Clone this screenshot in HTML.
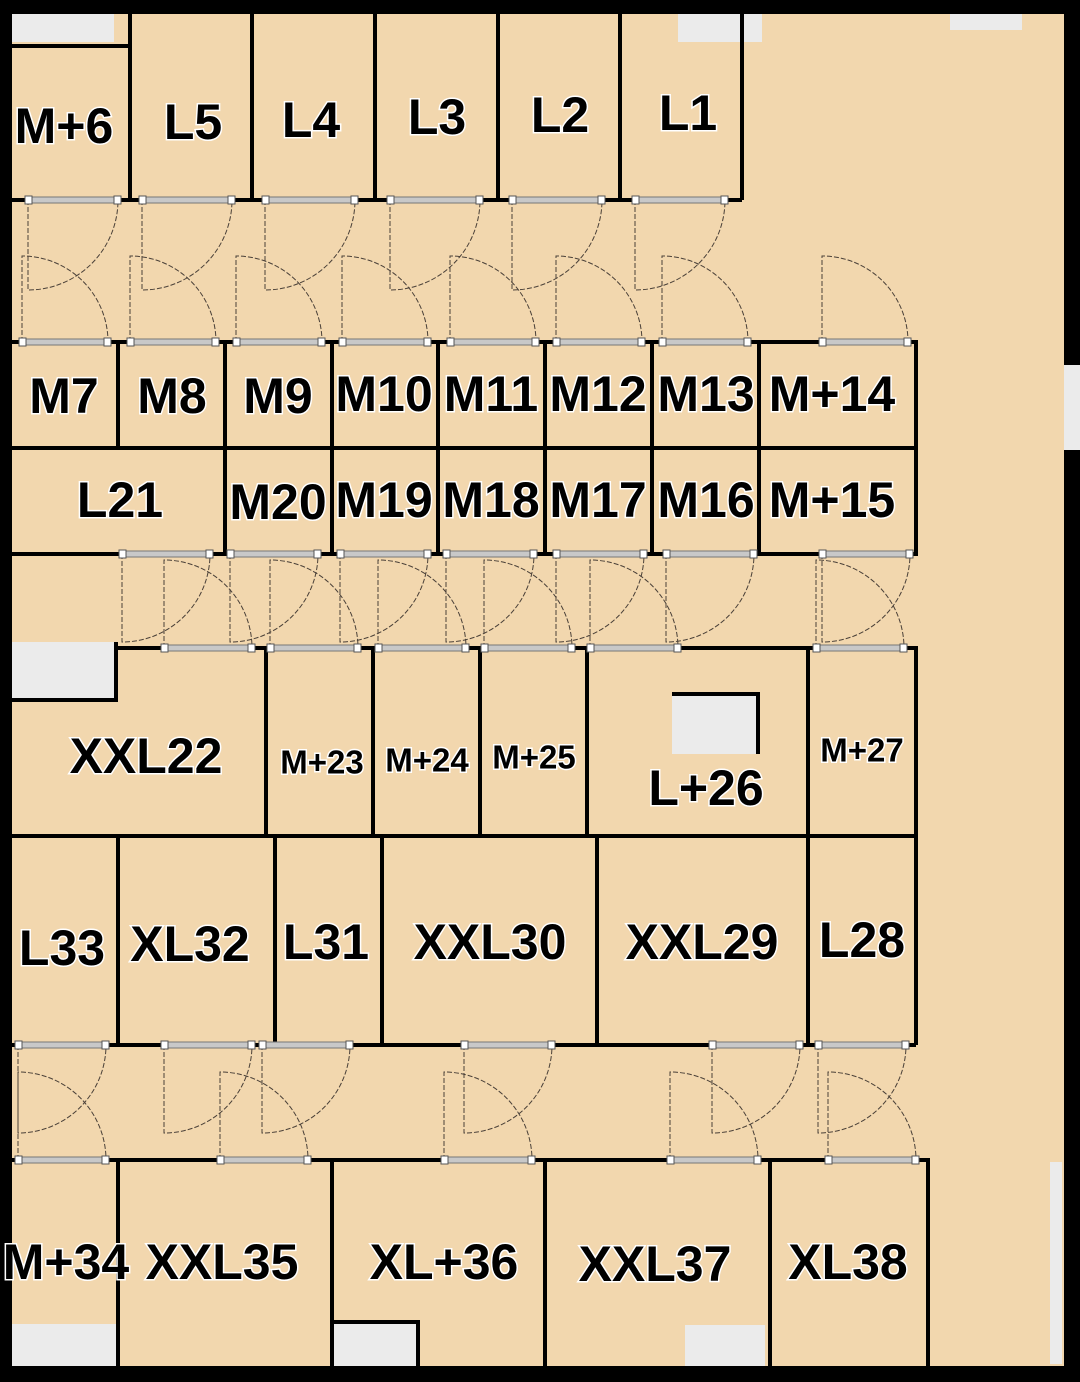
<!DOCTYPE html>
<html><head><meta charset="utf-8"><style>
html,body{margin:0;padding:0;background:#f2d7ae}
svg{display:block}
text{font-family:"Liberation Sans",sans-serif;font-weight:bold;fill:#000;stroke:#fff;stroke-width:3px;paint-order:stroke;text-anchor:middle;dominant-baseline:central}
</style></head><body>
<svg id="s" width="1080" height="1382" viewBox="0 0 1080 1382" xmlns="http://www.w3.org/2000/svg">
<rect x="0" y="0" width="1080" height="1382" fill="#f2d7ae"/>
<g fill="#ebebeb">
<rect x="12" y="14" width="102" height="28"/>
<rect x="678" y="14" width="84" height="28"/>
<rect x="950" y="14" width="72" height="16"/>
<rect x="12" y="642" width="104" height="58"/>
<rect x="672" y="694" width="84" height="60"/>
<rect x="12" y="1324" width="104" height="42"/>
<rect x="334" y="1322" width="84" height="44"/>
<rect x="685" y="1325" width="80" height="41"/>
<rect x="1050" y="1162" width="12" height="202"/>
<rect x="1064" y="365" width="16" height="85"/>
</g>
<g fill="none" stroke="#000" stroke-width="4">
<path d="M12 46H130M130 14V200M252 14V200M375 14V200M498 14V200M620 14V200M742 14V200M12 200H742"/>
<path d="M12 342H916V554H12M12 448H916M118 342V448M225 342V554M332 342V554M438 342V554M545 342V554M652 342V554M759 342V554M916 342V554"/>
<path d="M116 642V700H12M116 648H808V836M808 648H916V1045M12 836H916M266 648V836M373 648V836M480 648V836M587 648V836"/>
<path d="M672 694H758V754"/>
<path d="M12 1045H916M118 836V1045M275 836V1045M382 836V1045M597 836V1045M808 836V1045"/>
<path d="M12 1160H928V1366M118 1160V1366M332 1160V1366M545 1160V1366M770 1160V1366M334 1322H418V1366"/>
</g>
<g id="doors" fill="none" stroke="#4a4038" stroke-width="1" stroke-dasharray="5,2"></g>
<g id="jambs"></g>
<g fill="#000">
<rect x="0" y="0" width="1080" height="14"/>
<rect x="0" y="0" width="12" height="1382"/>
<rect x="0" y="1366" width="1080" height="16"/>
<rect x="1064" y="0" width="16" height="365"/>
<rect x="1064" y="450" width="16" height="932"/>
</g>
<g font-size="50">
<text x="64" y="126">M+6</text>
<text x="193" y="122">L5</text>
<text x="311" y="120">L4</text>
<text x="437" y="117">L3</text>
<text x="560" y="115">L2</text>
<text x="688" y="113">L1</text>
<text x="64" y="396">M7</text>
<text x="172" y="396">M8</text>
<text x="278" y="396">M9</text>
<text x="384" y="394">M10</text>
<text x="491" y="394">M11</text>
<text x="598" y="394">M12</text>
<text x="706" y="394">M13</text>
<text x="832" y="394">M+14</text>
<text x="120" y="500">L21</text>
<text x="278" y="502">M20</text>
<text x="384" y="500">M19</text>
<text x="491" y="500">M18</text>
<text x="598" y="500">M17</text>
<text x="706" y="500">M16</text>
<text x="832" y="500">M+15</text>
<text x="146" y="756">XXL22</text>
<text x="706" y="788">L+26</text>
<text x="62" y="948">L33</text>
<text x="190" y="944">XL32</text>
<text x="326" y="942">L31</text>
<text x="490" y="942">XXL30</text>
<text x="702" y="942">XXL29</text>
<text x="862" y="940">L28</text>
<text x="66" y="1262">M+34</text>
<text x="222" y="1262">XXL35</text>
<text x="444" y="1262">XL+36</text>
<text x="655" y="1264">XXL37</text>
<text x="848" y="1262">XL38</text>
</g>
<g font-size="33">
<text x="322" y="762">M+23</text>
<text x="427" y="760">M+24</text>
<text x="534" y="757">M+25</text>
<text x="862" y="750">M+27</text>
</g>
</svg>
<script>
var ns="http://www.w3.org/2000/svg",d=document.getElementById('doors'),j=document.getElementById('jambs');
function el(p,t,a){var e=document.createElementNS(ns,t);for(var k in a)e.setAttribute(k,a[k]);p.appendChild(e);}
function door(x,y,w,up){
 var ly=up?y-w:y+w;
 el(d,'path',{d:'M'+x+' '+y+'V'+ly+'A'+w+' '+w+' 0 0 '+(up?1:0)+' '+(x+w)+' '+y});
 el(j,'rect',{x:x,y:y-3,width:w,height:6,fill:'#c8c8c8',stroke:'#777','stroke-width':1});
 el(j,'rect',{x:x-3,y:y-4,width:7,height:8,fill:'#fff',stroke:'#555','stroke-width':1});
 el(j,'rect',{x:x+w-4,y:y-4,width:7,height:8,fill:'#fff',stroke:'#555','stroke-width':1});
}
[28,142,265,390,512,635].forEach(function(x){door(x,200,90,false)});
[22,130,236,342,450,556,662,822].forEach(function(x){door(x,342,86,true)});
[122,230,340,446,556,666,822].forEach(function(x){door(x,554,88,false)});
[164,270,378,484,590,816].forEach(function(x){door(x,648,88,true)});
[18,164,262,464,712,818].forEach(function(x){door(x,1045,88,false)});
[18,220,444,670,828].forEach(function(x){door(x,1160,88,true)});
</script>
</body></html>
